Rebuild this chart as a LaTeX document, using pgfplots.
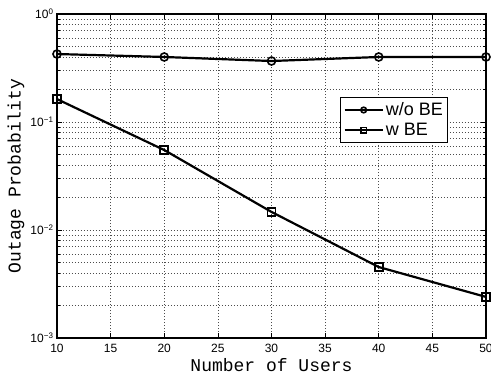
\documentclass[border=0pt]{standalone}
\usepackage{fontspec}
\usepackage{pgfplots}
\pgfplotsset{compat=1.18}
\newfontfamily\helv{Liberation Sans}
\newfontfamily\cour{Liberation Mono}
\begin{document}
\begin{tikzpicture}
\begin{semilogyaxis}[
  scale only axis,
  width=429pt, height=324pt,
  xmin=10, xmax=50, ymin=1e-3, ymax=1,
  xtick={10,15,20,25,30,35,40,45,50},
  ytick={1e-3,1e-2,1e-1,1},
  yticklabels={10\textsuperscript{−3},10\textsuperscript{−2},10\textsuperscript{−1},10\textsuperscript{0}},
  /pgf/number format/assume math mode=true,
  tick label style={font=\helv\fontsize{12}{14}\selectfont},
  xticklabel style={yshift=-3pt},
  xmajorgrids, ymajorgrids, yminorgrids,
  major grid style={black!70, line width=0.5pt, dash pattern=on 0.6pt off 2.4pt},
  minor grid style={black!70, line width=0.5pt, dash pattern=on 0.6pt off 2.4pt},
  axis line style={line width=1.2pt},
  major tick length=5pt, minor tick length=3pt,
  tick style={black, line width=0.6pt},
  xlabel={Number of Users},
  ylabel={Outage Probability},
  label style={font=\cour\fontsize{18}{20}\selectfont},
  xlabel style={at={(axis description cs:0.5,0)}, anchor=base, yshift=-33pt},
  ylabel style={at={(axis description cs:0,0.5)}, anchor=center, yshift=41pt},
  legend style={at={(0.786,0.673)}, anchor=center, font=\helv\fontsize{18}{20}\selectfont, draw=black, line width=0.8pt, inner sep=3pt, row sep=2pt},
  legend cell align=left,
  legend image code/.code={\draw[mark repeat=2,mark phase=2,#1,mark size=2.8pt] plot coordinates {(0pt,0pt) (19pt,0pt) (38pt,0pt)};},
]
\addplot[black, line width=2.2pt, mark=o, mark size=4pt, mark options={line width=1.6pt}] coordinates {
  (10,0.426) (20,0.400) (30,0.367) (40,0.400) (50,0.400)
};
\addlegendentry{w/o BE}
\addplot[black, line width=2.2pt, mark=square, mark size=4pt, mark options={line width=1.6pt}] coordinates {
  (10,0.163) (20,0.055) (30,0.0147) (40,0.00454) (50,0.0024)
};
\addlegendentry{w BE}
\end{semilogyaxis}
\pgfresetboundingbox
\useasboundingbox (current axis.south west) ++(-57pt,-37pt) rectangle ++(491pt,375pt);
\end{tikzpicture}
\end{document}
